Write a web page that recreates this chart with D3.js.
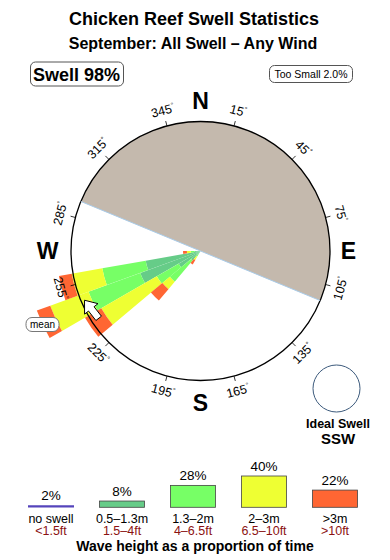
<!DOCTYPE html>
<html>
<head>
<meta charset="utf-8">
<script src="https://cdn.jsdelivr.net/npm/d3@7"></script>
<style>
  body { margin: 0; background: #fff; }
  svg text { font-family: "Liberation Sans", Arial, sans-serif; }
</style>
</head>
<body>
<div id="chart"></div>
<script>
// swell direction bins (centre bearing, 10° wide)
const dirs = [215, 225, 235, 245, 255, 265];
// radial length of each height band per bin (stacked outward)
const band05 = [0.5, 1.9, 3.9, 9.9, 8.6, 0.9];
const band13 = [0.5, 4.3, 3.9, 8.5, 6.8, 0.6];
const band2  = [0.6, 1.5, 9.9, 6.3, 4.8, 0.6];
const band3  = [0.8, 2.3, 2.9, 2.2, 2.0, 0.6];

const bandKeys   = ['b05', 'b13', 'b2', 'b3'];
const bandColors = ['#66cc88', '#77ff66', '#eeff33', '#ff6633'];

// legend
const legendPct   = [2, 8, 28, 40, 22];
const legendMetre = ['no swell', '0.5–1.3m', '1.3–2m', '2–3m', '>3m'];
const legendFeet  = ['<1.5ft', '1.5–4ft', '4–6.5ft', '6.5–10ft', '>10ft'];
const legendColors = ['#5544bb', '#66cc88', '#77ff66', '#eeff33', '#ff6633'];

const tickDegs = [15, 45, 75, 105, 135, 165, 195, 225, 255, 285, 315, 345];
const landFrom = 292.5, landTo = 112.5;
const meanDir = 247;

const width = 390, height = 560;
const cx = 200.5, cy = 251, R = 129.5;
const rad = d => d * Math.PI / 180;
const polar = (b, r) => [cx + r * Math.sin(rad(b)), cy - r * Math.cos(rad(b))];

const svg = d3.select('#chart').append('svg')
  .attr('width', width).attr('height', height);

// Titles
svg.append('text').attr('x', 194).attr('y', 25).attr('text-anchor', 'middle')
  .attr('font-size', 18).attr('font-weight', 'bold').text('Chicken Reef Swell Statistics');
svg.append('text').attr('x', 193).attr('y', 48.5).attr('text-anchor', 'middle')
  .attr('font-size', 16).attr('font-weight', 'bold').text('September: All Swell – Any Wind');

// Swell / too small boxes
svg.append('rect').attr('x', 30.5).attr('y', 62).attr('width', 93).attr('height', 24).attr('rx', 5)
  .attr('fill', '#fff').attr('stroke', '#555');
svg.append('text').attr('x', 76.5).attr('y', 81).attr('text-anchor', 'middle')
  .attr('font-size', 18).attr('font-weight', 'bold').text('Swell 98%');
svg.append('rect').attr('x', 269.5).attr('y', 65.5).attr('width', 83).attr('height', 17).attr('rx', 5)
  .attr('fill', '#fff').attr('stroke', '#555');
svg.append('text').attr('x', 311).attr('y', 78).attr('text-anchor', 'middle')
  .attr('font-size', 10.5).text('Too Small 2.0%');

// Rose
const g = svg.append('g').attr('transform', `translate(${cx},${cy})`);
const rScale = d3.scaleLinear().domain([0, 20]).range([0, R]);

g.append('circle').attr('r', R).attr('fill', '#fff');

// land sector
g.append('path')
  .attr('d', d3.arc()({ innerRadius: 0, outerRadius: R, startAngle: rad(landFrom - 360), endAngle: rad(landTo) }))
  .attr('fill', '#c4b9ad');
const p1 = polar(landFrom, R), p2 = polar(landTo, R);
svg.append('line').attr('x1', p1[0]).attr('y1', p1[1]).attr('x2', p2[0]).attr('y2', p2[1])
  .attr('stroke', '#a9cbe8').attr('stroke-width', 1);

// stacked wedges
const rows = dirs.map((d, i) => ({ dir: d, b05: band05[i], b13: band13[i], b2: band2[i], b3: band3[i] }));
const stacked = d3.stack().keys(bandKeys)(rows);
const arc = d3.arc();

stacked.forEach((series, k) => {
  g.selectAll(null)
    .data(series)
    .join('path')
      .attr('fill', bandColors[k])
      .attr('d', d => arc({
        innerRadius: rScale(d[0]),
        outerRadius: rScale(d[1]),
        startAngle: rad(d.data.dir - 5),
        endAngle: rad(d.data.dir + 5)
      }));
});

// compass ring
g.append('circle').attr('r', R).attr('fill', 'none').attr('stroke', '#000').attr('stroke-width', 1.3);

tickDegs.forEach(t => {
  const a = polar(t, R), b = polar(t, R + 5);
  svg.append('line').attr('x1', a[0]).attr('y1', a[1]).attr('x2', b[0]).attr('y2', b[1])
    .attr('stroke', '#000').attr('stroke-width', 0.8);
  const p = polar(t, R + 15.5);
  const rot = (t > 90 && t < 270) ? t - 180 : t;
  const lab = svg.append('text')
    .attr('transform', `translate(${p[0]},${p[1]}) rotate(${rot})`)
    .attr('text-anchor', 'middle').attr('dominant-baseline', 'central')
    .attr('font-size', 12.5);
  lab.append('tspan').text(t);
  lab.append('tspan').attr('font-size', 7).attr('dy', -4).text('°');
});

// cardinal letters
[['N', 0, 150], ['E', 90, 148], ['S', 180, 152], ['W', 270, 153]].forEach(([l, b, r]) => {
  const p = polar(b, r);
  svg.append('text').attr('x', p[0]).attr('y', p[1])
    .attr('text-anchor', 'middle').attr('dominant-baseline', 'central')
    .attr('font-size', 23).attr('font-weight', 'bold').text(l);
});

// mean arrow
const tip = polar(meanDir, 126);
svg.append('path')
  .attr('transform', `translate(${tip[0]},${tip[1]}) rotate(${meanDir - 285})`)
  .attr('d', 'M0,0 L8.5,11 L3.5,11 L3.5,23 L-3.5,23 L-3.5,11 L-8.5,11 Z')
  .attr('fill', '#fff').attr('stroke', '#000').attr('stroke-width', 0.9);

svg.append('rect').attr('x', 26).attr('y', 317.5).attr('width', 33).attr('height', 14).attr('rx', 6)
  .attr('fill', '#fff').attr('stroke', '#777');
svg.append('text').attr('x', 42.5).attr('y', 328).attr('text-anchor', 'middle')
  .attr('font-size', 10).text('mean');

// ideal swell
svg.append('circle').attr('cx', 336.5).attr('cy', 388.5).attr('r', 23.5)
  .attr('fill', '#fff').attr('stroke', '#3c5a7c').attr('stroke-width', 1);
svg.append('text').attr('x', 338).attr('y', 427.5).attr('text-anchor', 'middle')
  .attr('font-size', 12.5).attr('font-weight', 'bold').text('Ideal Swell');
svg.append('text').attr('x', 338).attr('y', 443.5).attr('text-anchor', 'middle')
  .attr('font-size', 15).attr('font-weight', 'bold').text('SSW');

// legend
const legX = d3.scalePoint().domain(legendMetre).range([51, 335]);
const legH = d3.scaleLinear().domain([0, 40]).range([0, 31.3]);
const base = 507.3, bw = 45;

legendMetre.forEach((m, i) => {
  const x = legX(m), h = legH(legendPct[i]);
  if (i === 0) {
    svg.append('line').attr('x1', x - 23).attr('x2', x + 23).attr('y1', base - 1).attr('y2', base - 1)
      .attr('stroke', legendColors[i]).attr('stroke-width', 2.2);
  } else {
    svg.append('rect').attr('x', x - bw / 2).attr('y', base - h).attr('width', bw).attr('height', h)
      .attr('fill', legendColors[i]).attr('stroke', '#444').attr('stroke-width', 0.8);
  }
  svg.append('text').attr('x', x).attr('y', base - Math.max(h, 2) - 5).attr('text-anchor', 'middle')
    .attr('font-size', 13.5).text(legendPct[i] + '%');
  svg.append('text').attr('x', x).attr('y', 522.5).attr('text-anchor', 'middle')
    .attr('font-size', 12.5).text(m);
  svg.append('text').attr('x', x).attr('y', 535).attr('text-anchor', 'middle')
    .attr('font-size', 12.5).attr('fill', '#8b1212').text(legendFeet[i]);
});

svg.append('text').attr('x', 195).attr('y', 550.5).attr('text-anchor', 'middle')
  .attr('font-size', 14).attr('font-weight', 'bold').text('Wave height as a proportion of time');
</script>
</body>
</html>
